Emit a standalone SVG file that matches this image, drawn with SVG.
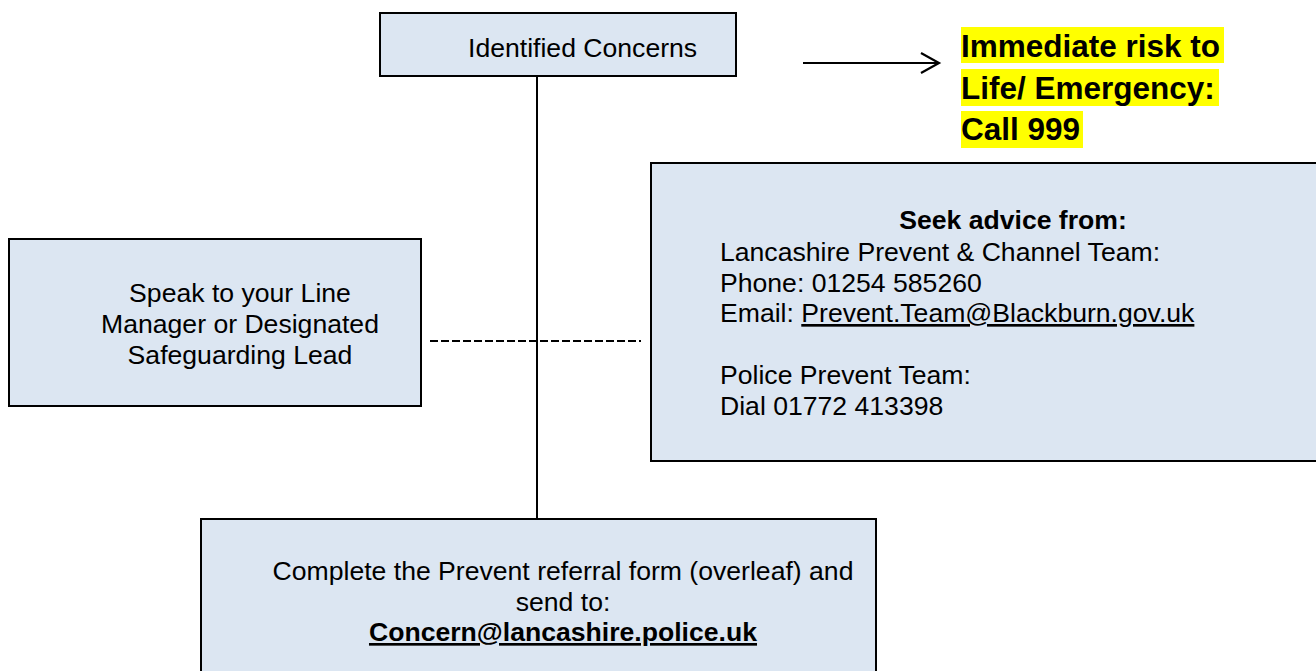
<svg xmlns="http://www.w3.org/2000/svg" width="1316" height="671" viewBox="0 0 1316 671">
<style>
.box{fill:#DCE6F2;stroke:#000;stroke-width:2}
.t{font-family:"Liberation Sans",Arial,sans-serif;font-size:26.6px;fill:#000}
.b{font-weight:bold}
.y{font-family:"Liberation Sans",Arial,sans-serif;font-size:31.5px;font-weight:bold;fill:#000}
.hl{fill:#FFFF00}
</style>
<defs>
<marker id="open" markerWidth="24" markerHeight="24" refX="20" refY="11" orient="auto" markerUnits="userSpaceOnUse">
<path d="M2,1 L20,11 L2,21" fill="none" stroke="#000" stroke-width="2.2"/>
</marker>
</defs>
<rect width="1316" height="671" fill="#fff"/>
<g id="connectors" stroke="#000" stroke-width="2" fill="none">
<line x1="537" y1="76" x2="537" y2="519"/>
<line x1="430" y1="341" x2="641" y2="341" stroke-dasharray="8,3"/>
<line x1="803" y1="63" x2="939" y2="63" marker-end="url(#open)"/>
</g>
<g id="identified">
<rect class="box" x="380" y="13" width="356" height="63"/>
<text class="t" x="468" y="56.5">Identified Concerns</text>
</g>
<g id="emergency">
<rect class="hl" x="961" y="27" width="263" height="36"/>
<rect class="hl" x="961" y="69" width="258" height="37"/>
<rect class="hl" x="961" y="111" width="122" height="37"/>
<text class="y" x="961" y="57">Immediate risk to</text>
<text class="y" x="961" y="98.5">Life/ Emergency:</text>
<text class="y" x="961" y="140">Call 999</text>
</g>
<g id="speak">
<rect class="box" x="9" y="239" width="412" height="167"/>
<text class="t" text-anchor="middle" x="240" y="302">Speak to your Line</text>
<text class="t" text-anchor="middle" x="240" y="333">Manager or Designated</text>
<text class="t" text-anchor="middle" x="240" y="364">Safeguarding Lead</text>
</g>
<g id="advice">
<rect class="box" x="651" y="163" width="680" height="298"/>
<text class="t b" text-anchor="middle" x="1013" y="229">Seek advice from:</text>
<text class="t" x="720" y="261">Lancashire Prevent &amp; Channel Team:</text>
<text class="t" x="720" y="292">Phone: 01254 585260</text>
<text class="t" x="720" y="322">Email: <tspan text-decoration="underline">Prevent.Team@Blackburn.gov.uk</tspan></text>
<text class="t" x="720" y="384">Police Prevent Team:</text>
<text class="t" x="720" y="415">Dial 01772 413398</text>
</g>
<g id="referral">
<rect class="box" x="201" y="519" width="675" height="170"/>
<text class="t" text-anchor="middle" x="563" y="580">Complete the Prevent referral form (overleaf) and</text>
<text class="t" text-anchor="middle" x="563" y="611">send to:</text>
<text class="t b" text-anchor="middle" x="563" y="641" text-decoration="underline">Concern@lancashire.police.uk</text>
</g>
</svg>
